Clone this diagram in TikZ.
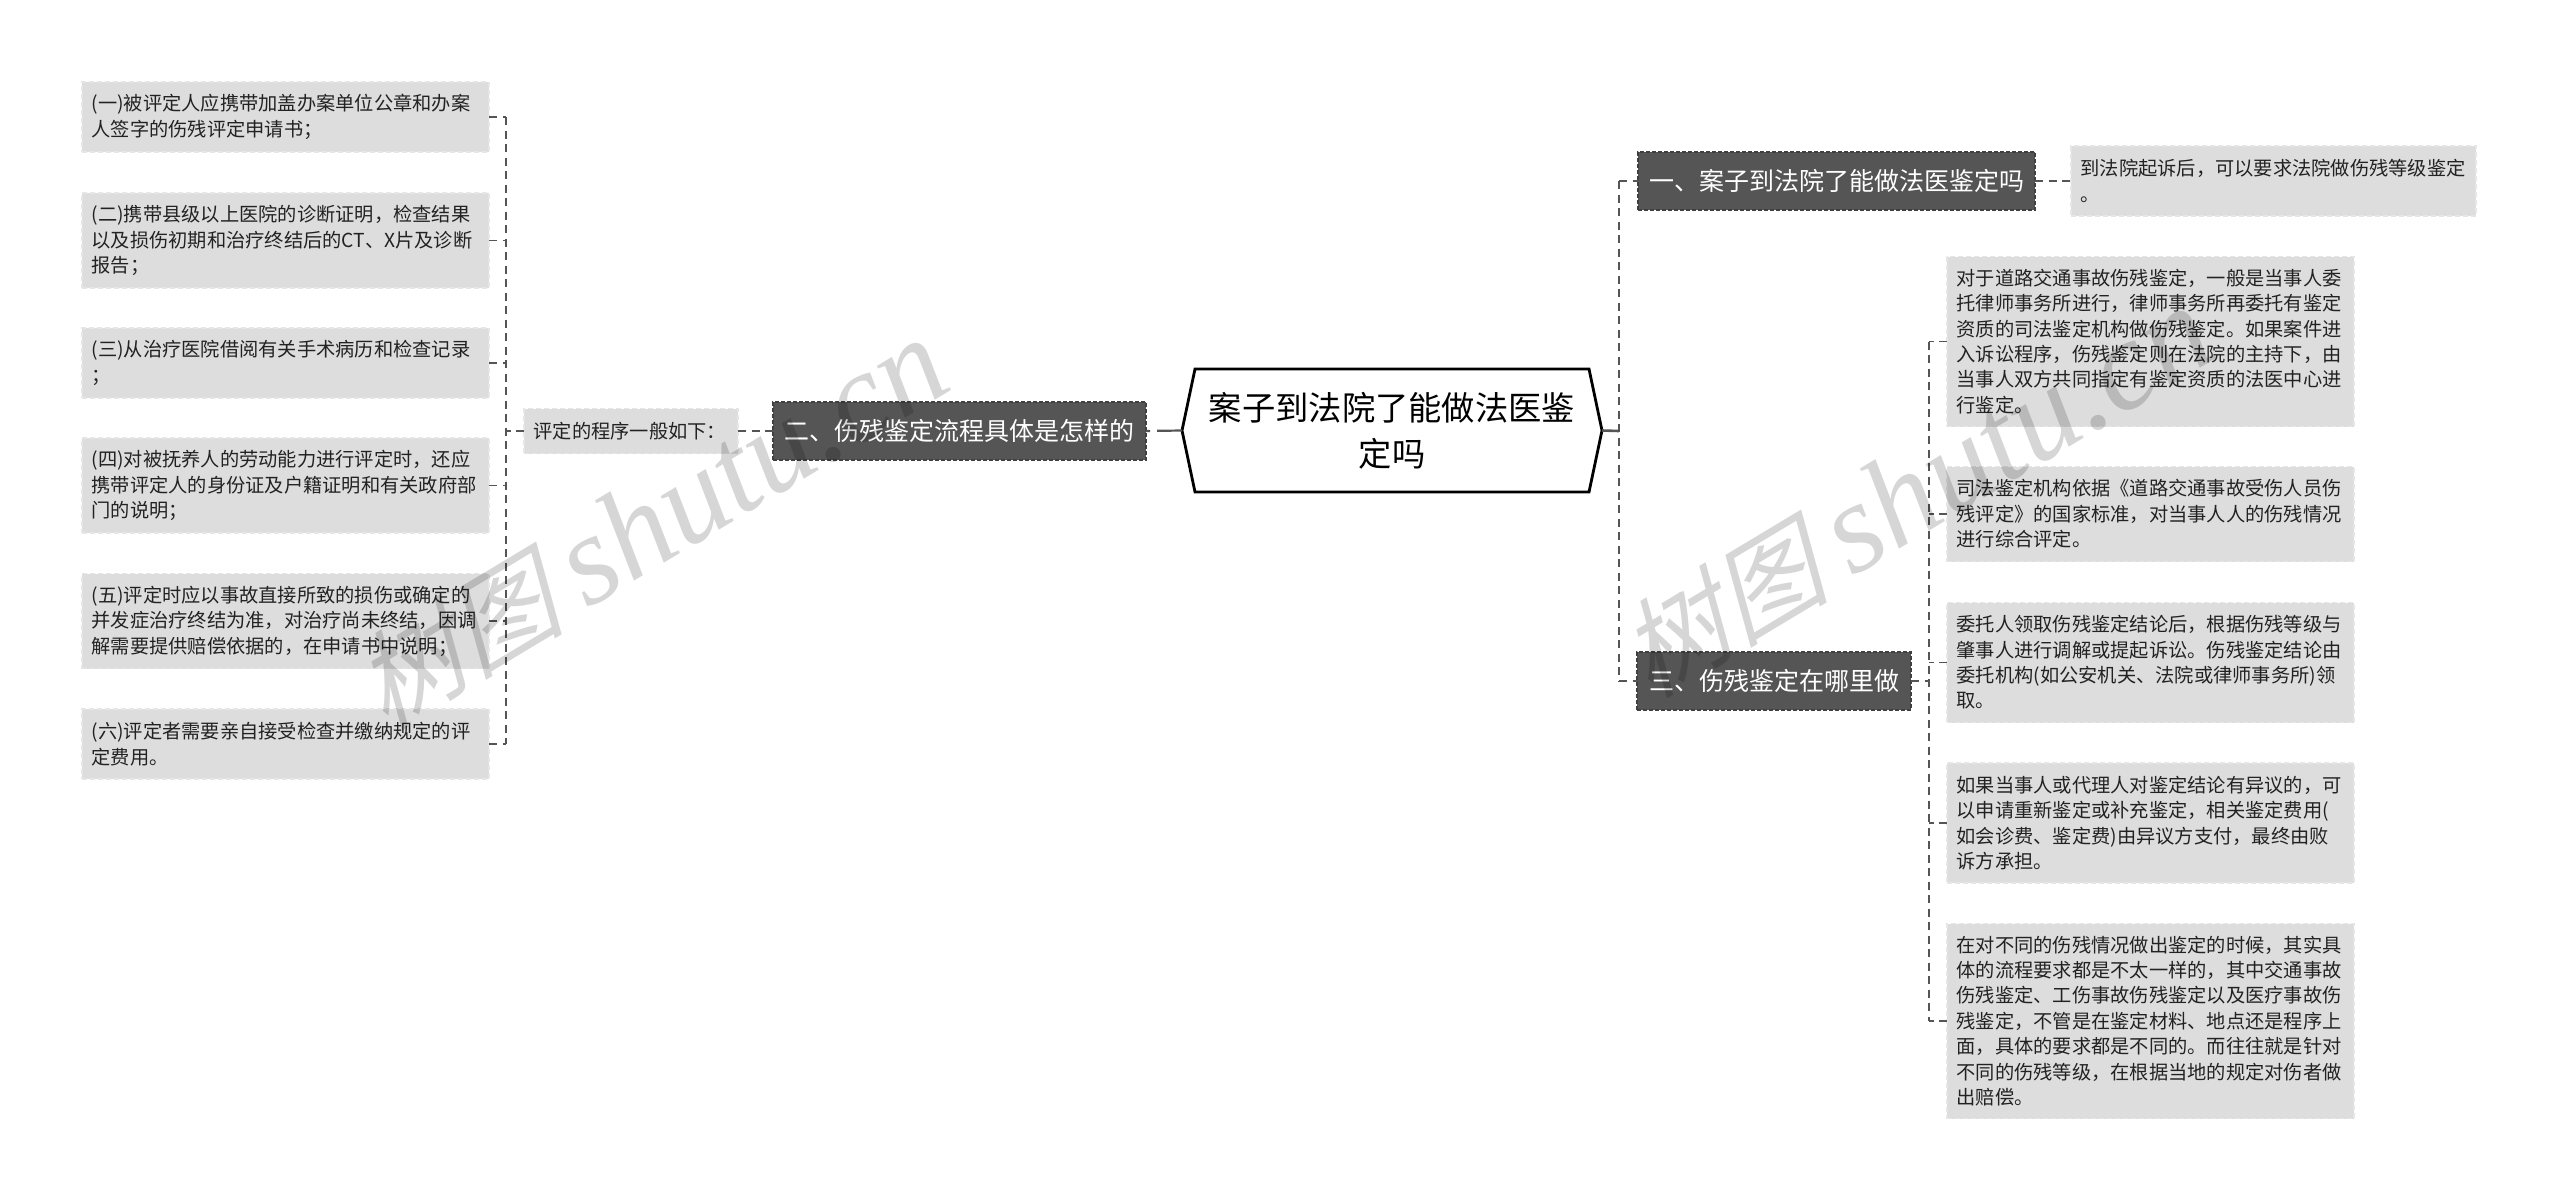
\documentclass[tikz,border=0pt]{standalone}
\usepackage{fontspec}
\setmainfont{Noto Sans CJK SC}
\newfontfamily\wmcjk[AutoFakeSlant=0.28]{Noto Sans CJK SC}
\newfontfamily\wmlat{Liberation Serif}[ItalicFont={Liberation Serif Italic}]
\definecolor{leaffill}{HTML}{DDDDDD}
\definecolor{leafedge}{HTML}{E6E6E6}
\definecolor{darkfill}{HTML}{555555}
\definecolor{darkedge}{HTML}{404040}
\definecolor{linkcol}{HTML}{555555}
\definecolor{txt}{HTML}{222222}
\newcommand{\wmtext}{{\fontsize{106}{130}\selectfont\wmcjk\itshape 树图}\hspace{24pt}{\fontsize{128}{130}\selectfont\wmlat\itshape shutu.cn}}
\tikzset{
  leafbase/.style={rectangle,fill=leaffill,draw=leafedge,line width=1.2pt,dash pattern=on 5pt off 3pt,
    outer sep=0pt,inner xsep=9.5pt,inner ysep=0pt,align=left,text=txt,
    font=\fontsize{19.25}{25.4}\selectfont},
  leafbox/.style={leafbase,text width=388pt},
  leafwide/.style={leafbase,text width=386pt},
  subbox/.style={leafbase,text width=195pt,minimum height=45pt},
  branchbox/.style={rectangle,fill=darkfill,draw=darkedge,line width=1.2pt,dash pattern=on 4pt off 2pt,
    outer sep=0pt,inner sep=0pt,text=white,minimum height=58pt,align=center,
    font=\fontsize{25}{30}\selectfont},
  mainnode/.style={rectangle,outer sep=0pt,inner sep=0pt,minimum width=420pt,minimum height=123pt,
    text width=370pt,align=center,text=black,font=\fontsize{33.3}{46}\selectfont},
  hexline/.style={draw=black,fill=white,line width=2.8pt,line join=miter},
  biglink/.style={draw=linkcol,line width=2.2pt,dash pattern=on 8pt off 5.5pt},
  solidlink/.style={draw=linkcol,line width=2.6pt},
  smalllink/.style={draw=linkcol,line width=1.4pt,dash pattern=on 8pt off 5.5pt},
  mark text/.style={black,opacity=0.16,rotate=31},
}
\begin{document}
\begin{tikzpicture}[x=1pt,y=-1pt]
\useasboundingbox (0,0) rectangle (2560,1199);
\fill[white] (0,0) rectangle (2560,1199);
\coordinate (spineL) at (506,431);
\coordinate (spineA) at (1619,431);
\coordinate (spineB) at (1929,681);

% centre
\node[mainnode] (centre) at (1392,430.5) {\phantom{案}};
\path[hexline] (centre.west) -- ([xshift=13pt]centre.north west) -- ([xshift=-13pt]centre.north east)
  -- (centre.east) -- ([xshift=-13pt]centre.south east) -- ([xshift=13pt]centre.south west) -- cycle;
\node[mainnode] (centretext) at (1392,430.5) {案子到法院了能做法医鉴\\定吗};

% branches
\node[branchbox,minimum width=373pt] (b2) at (959.5,431) {二、伤残鉴定流程具体是怎样的};
\node[branchbox,minimum width=397pt] (b1) at (1836.5,181) {一、案子到法院了能做法医鉴定吗};
\node[branchbox,minimum width=274pt] (b3) at (1774,681) {三、伤残鉴定在哪里做};

% left side
\node[subbox] (sub) at (631,431) {评定的程序一般如下：};
\node[leafbox,minimum height=70pt] (l1) at (285.5,117) {(一)被评定人应携带加盖办案单位公章和办案\\人签字的伤残评定申请书；};
\node[leafbox,minimum height=95pt] (l2) at (285.5,240.5) {(二)携带县级以上医院的诊断证明，检查结果\\以及损伤初期和治疗终结后的CT、X片及诊断\\报告；};
\node[leafbox,minimum height=70pt] (l3) at (285.5,363) {(三)从治疗医院借阅有关手术病历和检查记录\\；};
\node[leafbox,minimum height=95pt] (l4) at (285.5,485.5) {(四)对被抚养人的劳动能力进行评定时，还应\\携带评定人的身份证及户籍证明和有关政府部\\门的说明；};
\node[leafbox,minimum height=95pt] (l5) at (285.5,621) {(五)评定时应以事故直接所致的损伤或确定的\\并发症治疗终结为准，对治疗尚未终结，因调\\解需要提供赔偿依据的，在申请书中说明；};
\node[leafbox,minimum height=70pt] (l6) at (285.5,744) {(六)评定者需要亲自接受检查并缴纳规定的评\\定费用。};

% right side
\node[leafwide,minimum height=70pt] (r0) at (2273.5,181) {到法院起诉后，可以要求法院做伤残等级鉴定\\。};
\node[leafbox,minimum height=170pt] (r1) at (2150.5,341.5) {对于道路交通事故伤残鉴定，一般是当事人委\\托律师事务所进行，律师事务所再委托有鉴定\\资质的司法鉴定机构做伤残鉴定。如果案件进\\入诉讼程序，伤残鉴定则在法院的主持下，由\\当事人双方共同指定有鉴定资质的法医中心进\\行鉴定。};
\node[leafbox,minimum height=95pt] (r2) at (2150.5,514) {司法鉴定机构依据《道路交通事故受伤人员伤\\残评定》的国家标准，对当事人人的伤残情况\\进行综合评定。};
\node[leafbox,minimum height=120pt] (r3) at (2150.5,662.5) {委托人领取伤残鉴定结论后，根据伤残等级与\\肇事人进行调解或提起诉讼。伤残鉴定结论由\\委托机构(如公安机关、法院或律师事务所)领\\取。};
\node[leafbox,minimum height=120pt] (r4) at (2150.5,823) {如果当事人或代理人对鉴定结论有异议的，可\\以申请重新鉴定或补充鉴定，相关鉴定费用(\\如会诊费、鉴定费)由异议方支付，最终由败\\诉方承担。};
\node[leafbox,minimum height=195pt] (r5) at (2150.5,1021) {在对不同的伤残情况做出鉴定的时候，其实具\\体的流程要求都是不太一样的，其中交通事故\\伤残鉴定、工伤事故伤残鉴定以及医疗事故伤\\残鉴定，不管是在鉴定材料、地点还是程序上\\面，具体的要求都是不同的。而往往就是针对\\不同的伤残等级，在根据当地的规定对伤者做\\出赔偿。};

% connectors: centre to branches
\draw[draw=linkcol,line width=2.2pt,dash pattern=on 4pt off 7pt on 26pt off 10pt] (b2.east) -- (centre.west);
\draw[biglink] (sub.east) -- (b2.west);
\draw[solidlink] (centre.east) -- (spineA);
\draw[biglink] (spineA |- b1.west) -- (spineA |- b3.west);
\draw[biglink] (spineA |- b1.west) -- (b1.west);
\draw[biglink] (spineA |- b3.west) -- (b3.west);
\draw[biglink] (b1.east) -- (r0.west);

% left spine
\draw[smalllink] (spineL |- l1.east) -- (spineL |- l6.east);
\draw[smalllink] (sub.west) -- (spineL |- sub.west);
\foreach \n in {l1,l2,l3,l4,l5,l6}{\draw[smalllink] (\n.east) -- (spineL |- \n.east);}

% right spine
\draw[smalllink] (spineB |- r1.west) -- (spineB |- r5.west);
\draw[smalllink] (b3.east) -- (spineB);
\foreach \n in {r1,r2,r3,r4,r5}{\draw[smalllink] (\n.west) -- (spineB |- \n.west);}

% watermarks
\node[mark text] (wm1) at (650,525) {\wmtext};
\node[mark text] (wm2) at (1915,493) {\wmtext};
\end{tikzpicture}
\end{document}
